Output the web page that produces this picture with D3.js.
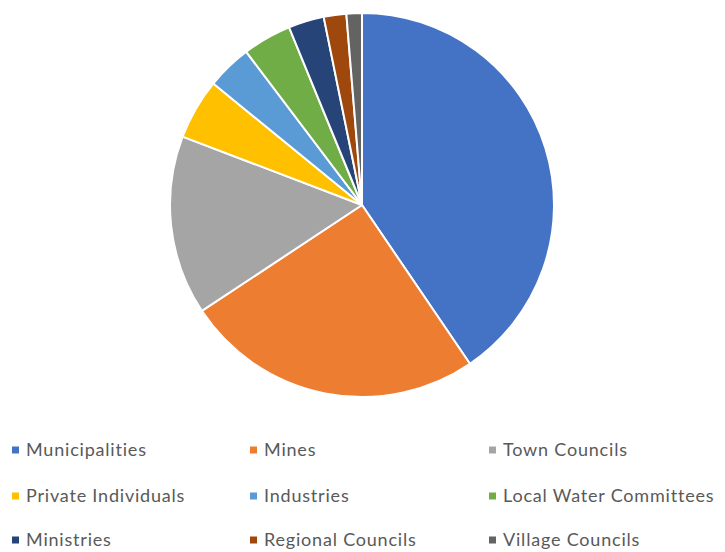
<!DOCTYPE html>
<html>
<head>
<meta charset="utf-8">
<script src="https://cdn.jsdelivr.net/npm/d3@7"></script>
<style>
  html, body { margin: 0; padding: 0; background: #fff; }
  svg { display: block; }
</style>
</head>
<body>
<svg id="chart" width="725" height="552"></svg>
<script>
// Share of water users by category (%)
const categories = [
  "Municipalities", "Mines", "Town Councils",
  "Private Individuals", "Industries", "Local Water Committees",
  "Ministries", "Regional Councils", "Village Councils"
];
const values = [40.5, 25.2, 15.1, 5.1, 3.8, 4.1, 3.0, 1.9, 1.3];
const colors = [
  "#4472C4", "#ED7D31", "#A5A5A5",
  "#FFC000", "#5B9BD5", "#70AD47",
  "#264478", "#9E480E", "#636363"
];

const svg = d3.select("#chart");
const cx = 362, cy = 205, radius = 192;

const color = d3.scaleOrdinal().domain(categories).range(colors);

const pie = d3.pie().sort(null).value(d => d.value);
const arc = d3.arc().innerRadius(0).outerRadius(radius);

const data = categories.map((c, i) => ({ name: c, value: values[i] }));

svg.append("g")
  .attr("transform", `translate(${cx},${cy})`)
  .selectAll("path")
  .data(pie(data))
  .join("path")
  .attr("d", arc)
  .attr("fill", d => color(d.data.name))
  .attr("stroke", "#fff")
  .attr("stroke-width", 2)
  .attr("stroke-linejoin", "round");

// Legend: three columns, three rows
const colX = [12, 250, 489];
const rowY = [450, 496, 540];
const legend = svg.append("g")
  .attr("font-family", "Lato, 'Open Sans', sans-serif")
  .attr("font-size", 18)
  .attr("letter-spacing", "0.8px")
  .attr("fill", "#595959");

const items = legend.selectAll("g")
  .data(categories)
  .join("g")
  .attr("transform", (d, i) => `translate(${colX[i % 3]},${rowY[Math.floor(i / 3)]})`);

items.append("rect")
  .attr("x", 0).attr("y", -3.5)
  .attr("width", 7).attr("height", 7)
  .attr("fill", d => color(d));

items.append("text")
  .attr("x", 14)
  .attr("dy", "0.35em")
  .text(d => d);
</script>
</body>
</html>
